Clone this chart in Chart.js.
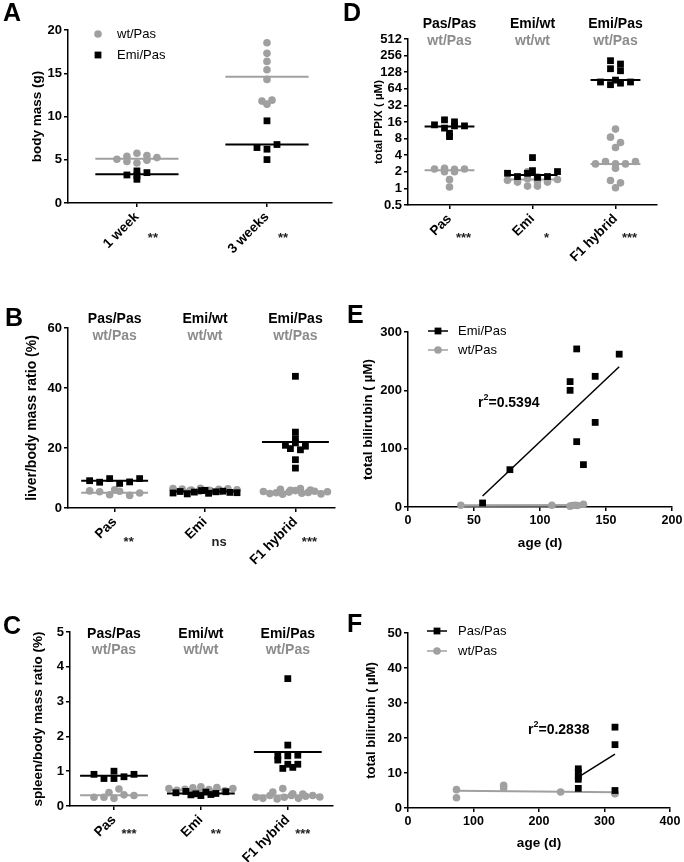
<!DOCTYPE html>
<html lang="en">
<head>
<meta charset="UTF-8" />
<title>Body mass, organ ratios, PPIX and bilirubin</title>
<script src="https://cdn.jsdelivr.net/npm/chart.js@4"></script>
<style>
  body { margin: 0; background: #fff; }
  #fig { position: relative; width: 684px; height: 862px; }
  canvas { position: absolute; }
</style>
</head>
<body>
<div id="fig">
  <canvas id="chartA" width="340" height="270" style="left:0;top:0"></canvas>
  <canvas id="chartD" width="344" height="270" style="left:340px;top:0"></canvas>
  <canvas id="chartB" width="340" height="302" style="left:0;top:270px"></canvas>
  <canvas id="chartE" width="344" height="290" style="left:340px;top:270px"></canvas>
  <canvas id="chartC" width="340" height="302" style="left:0;top:560px"></canvas>
  <canvas id="chartF" width="344" height="302" style="left:340px;top:560px"></canvas>
</div>

<script>
// ---- A: body mass (g)
const aCats = ['1 week', '3 weeks'];
const aWt = [[5.4, 5.06, 4.79, 5.75, 4.63, 4.94, 5.25, 5.48], [17.3, 16.37, 15.41, 14.29, 11.78, 11.43, 11.89, 18.53]];
const aEmi = [[3.71, 3.24, 2.74, 3.17, 3.51], [9.5, 6.41, 6.22, 6.76, 5.02]];
const aWtLine = [5.13, 14.6];
const aEmiLine = [3.32, 6.76];
const aStars = ['**', '**'];

// ---- B, C, D share the same three groups
const groupCats = ['Pas', 'Emi', 'F1 hybrid'];
const headTop = ['Pas/Pas', 'Emi/wt', 'Emi/Pas'];
const headBottom = ['wt/Pas', 'wt/wt', 'wt/Pas'];

// B: liver/body mass ratio (%)
const bMut = [[9.1, 8.6, 9.8, 8.2, 8.7, 9.8], [5.0, 5.5, 4.7, 5.3, 5.8, 4.9, 5.4, 5.6, 5.2, 5.9, 5.1], [43.9, 25.3, 23.1, 20.9, 19.8, 21.7, 19.4, 20.6, 16.1, 13.3]];
const bWt = [[5.7, 5.4, 6.1, 4.4, 5.6, 4.2, 5.0], [6.5, 5.8, 6.3, 5.6, 6.0, 6.6, 5.9, 6.2, 5.7, 6.4, 6.1, 5.5], [5.5, 6.2, 4.8, 5.9, 5.1, 6.5, 4.6, 5.3, 5.8, 4.9, 6.0, 5.2, 5.6, 4.7, 5.4]];
const bMutLine = [9.1, 5.5, 22.0];
const bWtLine = [5.1, 5.9, 5.4];
const bStars = ['**', 'ns', '***'];

// C: spleen/body mass ratio (%)
const cMut = [[0.91, 0.79, 1.0, 0.79, 0.84, 0.91], [0.38, 0.32, 0.42, 0.35, 0.30, 0.40, 0.36, 0.33, 0.41], [3.66, 1.75, 1.32, 1.44, 1.44, 1.46, 1.2, 1.08, 1.11, 1.2]];
const cWt = [[0.39, 0.25, 0.49, 0.25, 0.22, 0.32, 0.3], [0.5, 0.45, 0.55, 0.48, 0.52, 0.42, 0.47, 0.53, 0.44, 0.5], [0.4, 0.25, 0.22, 0.3, 0.5, 0.35, 0.2, 0.25, 0.3, 0.22, 0.28, 0.3, 0.34, 0.26]];
const cMutLine = [0.87, 0.36, 1.55];
const cWtLine = [0.31, 0.47, 0.3];
const cStars = ['***', '**', '***'];

// D: total PPIX (uM), log2 axis
const dMut = [[14.2, 12.4, 17.5, 13.6, 8.7, 13.6, 10.0, 16.1], [1.88, 1.64, 3.62, 1.88, 2.1, 1.59, 1.64, 2.02], [92, 85, 76, 81, 85, 148, 136, 207, 180]];
const dWt = [[2.25, 2.0, 2.32, 2.0, 2.22, 2.25, 1.44, 1.06], [1.4, 1.3, 1.1, 1.5, 2.0, 1.1, 1.35, 1.6, 1.3, 1.45], [11.9, 8.5, 6.8, 5.5, 2.78, 3.07, 2.78, 2.32, 2.78, 3.07, 1.39, 1.26, 1.03]];
const dMutLine = [13.3, 1.75, 92];
const dWtLine = [2.13, 1.45, 2.78];
const dStars = ['***', '*', '***'];
const dTicks = [0.5, 1, 2, 4, 8, 16, 32, 64, 128, 256, 512];

// E: bilirubin vs age, Emi/Pas and wt/Pas
const eMutAge = [56.5, 77.2, 122.8, 122.8, 127.8, 127.8, 132.9, 141.8, 141.8, 160];
const eMutBili = [6.9, 64, 215, 200, 271, 112, 72.6, 224, 145, 262];
const eWtAge = [40, 109, 122.8, 124.6, 126.6, 128.4, 132.9];
const eWtBili = [2.9, 2.9, 1.5, 2.5, 3.0, 2.6, 4.6];

// F: bilirubin vs age, Pas/Pas and wt/Pas
const fMutAge = [260, 260, 260, 260, 260, 316, 316, 316];
const fMutBili = [11.2, 10.2, 9.0, 8.2, 5.6, 23.1, 18.1, 5.0];
const fWtAge = [74, 74, 146, 146, 233, 316, 316];
const fWtBili = [5.24, 2.95, 6.48, 5.71, 4.57, 4.29, 4.1];

const FONT = "'Liberation Sans', Arial, Helvetica, sans-serif";
const BLACK = '#000000';
const GREY = '#a0a0a0';
const HEAD_GREY = '#8c8c8c';

const DECOR = {};

const decorPlugin = {
  id: 'decor',
  afterDraw(chart) {
    const d = DECOR[chart.canvas.id];
    if (!d) return;
    const ctx = chart.ctx, area = chart.chartArea, xs = chart.scales.x;
    ctx.save();
    ctx.fillStyle = BLACK;
    ctx.font = `bold 25px ${FONT}`;
    ctx.textAlign = 'left';
    ctx.textBaseline = 'alphabetic';
    ctx.fillText(d.letter, d.letterAt[0], d.letterAt[1]);

    if (d.heads) {
      ctx.font = `bold 14px ${FONT}`;
      ctx.textAlign = 'center';
      ctx.textBaseline = 'middle';
      headTop.forEach((t, i) => {
        const x = xs.getPixelForValue(i + 1);
        ctx.fillStyle = BLACK;
        ctx.fillText(t, x, area.top + d.heads[0]);
        ctx.fillStyle = HEAD_GREY;
        ctx.fillText(headBottom[i], x, area.top + d.heads[1]);
      });
    }
    if (d.stars) {
      ctx.font = `bold 13px ${FONT}`;
      ctx.fillStyle = '#222';
      ctx.textAlign = 'center';
      ctx.textBaseline = 'middle';
      d.stars.forEach((s, i) => ctx.fillText(s, xs.getPixelForValue(i + 1) + d.starDx, area.bottom + d.starDy));
    }
    if (d.legend) {
      const L = d.legend;
      ctx.font = `13px ${FONT}`;
      ctx.textAlign = 'left';
      ctx.textBaseline = 'middle';
      L.items.forEach((it, i) => {
        const y = L.y[i];
        if (L.line) {
          ctx.strokeStyle = it.color;
          ctx.lineWidth = 1.5;
          ctx.beginPath();
          ctx.moveTo(L.x - 10, y);
          ctx.lineTo(L.x + 10, y);
          ctx.stroke();
        }
        ctx.fillStyle = it.color;
        if (it.style === 'circle') {
          ctx.beginPath();
          ctx.arc(L.x, y, 3.8, 0, Math.PI * 2);
          ctx.fill();
        } else {
          ctx.fillRect(L.x - 3.4, y - 3.4, 6.8, 6.8);
        }
        ctx.fillStyle = BLACK;
        ctx.fillText(it.label, L.textX, y);
      });
    }
    if (d.note) {
      const n = d.note;
      ctx.fillStyle = BLACK;
      ctx.textAlign = 'left';
      ctx.textBaseline = 'middle';
      ctx.font = `bold 14px ${FONT}`;
      let x = n.x;
      ctx.fillText('r', x, n.y);
      x += ctx.measureText('r').width;
      ctx.font = `bold 9px ${FONT}`;
      ctx.fillText('2', x, n.y - 5);
      x += ctx.measureText('2').width;
      ctx.font = `bold 14px ${FONT}`;
      ctx.fillText(n.text, x, n.y);
    }
    ctx.restore();
  }
};

function baseScale(size) {
  return {
    grid: { drawOnChartArea: false, color: BLACK, lineWidth: 1.5, tickLength: 4 },
    border: { color: BLACK, width: 1.5 },
    ticks: { color: BLACK, font: { family: FONT, size: size || 13, weight: 'bold' }, padding: 2 }
  };
}

function yTitle(text, size, pad) {
  return { display: true, text, color: BLACK, font: { family: FONT, size, weight: 'bold' }, padding: { top: pad, bottom: 0 } };
}

function catAxis(cats, min, max) {
  const s = baseScale(13.5);
  s.type = 'linear';
  s.min = min;
  s.max = max;
  s.afterBuildTicks = sc => { sc.ticks = cats.map((_, i) => ({ value: i + 1 })); };
  s.ticks.callback = v => cats[Math.round(v) - 1];
  s.ticks.minRotation = 45;
  s.ticks.maxRotation = 45;
  s.ticks.autoSkip = false;
  return s;
}

function pts(cat, values, style, color) {
  return {
    data: values.map(v => ({ x: cat, y: v })),
    swarm: { cat, values },
    pointStyle: style,
    pointRadius: style === 'rect' ? 4.8 : 3.8,
    pointBackgroundColor: color,
    pointBorderWidth: 0,
    showLine: false,
    clip: false
  };
}

function seg(cat, v, half, color) {
  return {
    data: [{ x: cat - half, y: v }, { x: cat + half, y: v }],
    showLine: true, borderColor: color, borderWidth: 2, pointRadius: 0, clip: false
  };
}

function dotSets(mut, wt, mutLine, wtLine, half) {
  const sets = [];
  mut.forEach((_, i) => {
    const cat = i + 1;
    sets.push(seg(cat, mutLine[i], half, BLACK));
    sets.push(pts(cat, mut[i], 'rect', BLACK));
    sets.push(seg(cat, wtLine[i], half, GREY));
    sets.push(pts(cat, wt[i], 'circle', GREY));
  });
  return sets;
}

function linreg(xs, ys) {
  const n = xs.length;
  const mx = xs.reduce((a, b) => a + b, 0) / n;
  const my = ys.reduce((a, b) => a + b, 0) / n;
  let sxy = 0, sxx = 0;
  xs.forEach((x, i) => { sxy += (x - mx) * (ys[i] - my); sxx += (x - mx) * (x - mx); });
  const m = sxy / sxx;
  return x => my + m * (x - mx);
}

function fitLine(xs, ys, color, width) {
  const f = linreg(xs, ys);
  const x0 = Math.min(...xs), x1 = Math.max(...xs);
  return { data: [{ x: x0, y: f(x0) }, { x: x1, y: f(x1) }], showLine: true, borderColor: color, borderWidth: width, pointRadius: 0, clip: false };
}

function scatterSet(xs, ys, style, color) {
  return {
    data: xs.map((x, i) => ({ x, y: ys[i] })),
    pointStyle: style,
    pointRadius: style === 'rect' ? 4.8 : 3.8,
    pointBackgroundColor: color,
    pointBorderWidth: 0,
    showLine: false,
    clip: false
  };
}

// spread points of one group sideways, row by row, like a column scatter plot
function swarm(chart, bin, step, maxHalf) {
  const xs = chart.scales.x, ys = chart.scales.y;
  chart.data.datasets.forEach(ds => {
    if (!ds.swarm) return;
    const { cat, values } = ds.swarm;
    const cPx = xs.getPixelForValue(cat);
    const rows = {};
    values.forEach((v, i) => {
      const k = Math.round(ys.getPixelForValue(v) / bin);
      (rows[k] = rows[k] || []).push(i);
    });
    const data = [];
    Object.values(rows).forEach(idx => {
      const n = idx.length;
      const st = n > 1 ? Math.min(step, (2 * maxHalf) / (n - 1)) : 0;
      idx.forEach((i, j) => {
        data[i] = { x: xs.getValueForPixel(cPx + (j - (n - 1) / 2) * st), y: values[i] };
      });
    });
    ds.data = data;
  });
  chart.update('none');
}

function makeChart(id, box, datasets, scales) {
  const cv = document.getElementById(id);
  const W = cv.width, H = cv.height;
  scales.y.afterFit = s => { s.width = box.left; s.paddingTop = 0; s.paddingBottom = 0; };
  scales.x.afterFit = s => { s.height = H - box.bottom; s.paddingLeft = 0; s.paddingRight = 0; };
  return new Chart(cv, {
    type: 'scatter',
    data: { datasets },
    options: {
      responsive: false,
      animation: false,
      events: [],
      layout: { padding: { left: 0, top: box.top, right: W - box.right, bottom: 0 } },
      scales,
      plugins: { legend: { display: false }, tooltip: { enabled: false } }
    },
    plugins: [decorPlugin]
  });
}

function linY(min, max, step, title) {
  const s = baseScale(13);
  s.min = min; s.max = max;
  s.ticks.stepSize = step;
  s.title = title;
  return s;
}

// ---------- A ----------
DECOR.chartA = {
  letter: 'A', letterAt: [3, 21],
  stars: aStars, starDx: 16, starDy: 35,
  legend: { x: 98, textX: 117, y: [34, 55], line: false,
    items: [{ label: 'wt/Pas', color: GREY, style: 'circle' }, { label: 'Emi/Pas', color: BLACK, style: 'rect' }] }
};
const chartA = makeChart('chartA', { left: 68, top: 30, right: 332, bottom: 203 },
  dotSets(aEmi, aWt, aEmiLine, aWtLine, 0.32),
  { x: catAxis(aCats, 0.47, 2.5), y: linY(0, 20, 5, yTitle('body mass (g)', 13.5, 29)) });
swarm(chartA, 7, 10, 34);

// ---------- B ----------
DECOR.chartB = { letter: 'B', letterAt: [5, 56], heads: [-9, 8], stars: bStars, starDx: 14, starDy: 34 };
const chartB = makeChart('chartB', { left: 68, top: 58, right: 337, bottom: 238 },
  dotSets(bMut, bWt, bMutLine, bWtLine, 0.37),
  { x: catAxis(groupCats, 0.484, 3.44), y: linY(0, 60, 20, yTitle('liver/body mass ratio (%)', 14, 24)) });
swarm(chartB, 7, 10, 32);

// ---------- C ----------
DECOR.chartC = { letter: 'C', letterAt: [3, 74], heads: [2, 18], stars: cStars, starDx: 15, starDy: 28 };
const chartC = makeChart('chartC', { left: 70, top: 72, right: 333, bottom: 246 },
  dotSets(cMut, cWt, cMutLine, cWtLine, 0.39),
  { x: catAxis(groupCats, 0.494, 3.52), y: linY(0, 5, 1, yTitle('spleen/body mass ratio (%)', 13.5, 30)) });
swarm(chartC, 7, 10, 32);

// ---------- D ----------
DECOR.chartD = { letter: 'D', letterAt: [3, 21], heads: [-15, 2], stars: dStars, starDx: 14, starDy: 33 };
const dY = baseScale(13);
dY.type = 'logarithmic';
dY.min = 0.5; dY.max = 512;
dY.afterBuildTicks = s => { s.ticks = dTicks.map(v => ({ value: v })); };
dY.ticks.callback = v => String(v);
dY.ticks.autoSkip = false;
dY.title = yTitle('total PPIX ( \u00b5M)', 11.5, 32);
const chartD = makeChart('chartD', { left: 68, top: 39, right: 317, bottom: 205 },
  dotSets(dMut, dWt, dMutLine, dWtLine, 0.3),
  { x: catAxis(groupCats, 0.5, 3.5), y: dY });
swarm(chartD, 7, 10, 30);

// ---------- E ----------
function ageAxis(max, step, pad) {
  const s = baseScale(12.5);
  s.min = 0; s.max = max;
  s.ticks.stepSize = step;
  s.ticks.maxRotation = 0;
  s.title = { display: true, text: 'age (d)', color: BLACK, font: { family: FONT, size: 13.5, weight: 'bold' }, padding: { top: 0, bottom: pad } };
  return s;
}

DECOR.chartE = {
  letter: 'E', letterAt: [7, 53],
  legend: { x: 98, textX: 118, y: [61, 80], line: true,
    items: [{ label: 'Emi/Pas', color: BLACK, style: 'rect' }, { label: 'wt/Pas', color: GREY, style: 'circle' }] },
  note: { text: '=0.5394', x: 138, y: 133 }
};
makeChart('chartE', { left: 68, top: 62, right: 332, bottom: 237 },
  [fitLine(eMutAge, eMutBili, BLACK, 1.5), scatterSet(eMutAge, eMutBili, 'rect', BLACK),
   fitLine(eWtAge, eWtBili, GREY, 2.5), scatterSet(eWtAge, eWtBili, 'circle', GREY)],
  { x: ageAxis(200, 50, 9), y: linY(0, 300, 100, yTitle('total bilirubin ( \u00b5M)', 13.5, 20)) });

// ---------- F ----------
DECOR.chartF = {
  letter: 'F', letterAt: [7, 72],
  legend: { x: 97, textX: 118, y: [71, 91], line: true,
    items: [{ label: 'Pas/Pas', color: BLACK, style: 'rect' }, { label: 'wt/Pas', color: GREY, style: 'circle' }] },
  note: { text: '=0.2838', x: 188, y: 170 }
};
makeChart('chartF', { left: 68, top: 73, right: 330, bottom: 248 },
  [fitLine(fMutAge, fMutBili, BLACK, 1.5), scatterSet(fMutAge, fMutBili, 'rect', BLACK),
   fitLine(fWtAge, fWtBili, GREY, 2), scatterSet(fWtAge, fWtBili, 'circle', GREY)],
  { x: ageAxis(400, 100, 11), y: linY(0, 50, 10, yTitle('total bilirubin ( \u00b5M)', 13, 24)) });
</script>
</body>
</html>
